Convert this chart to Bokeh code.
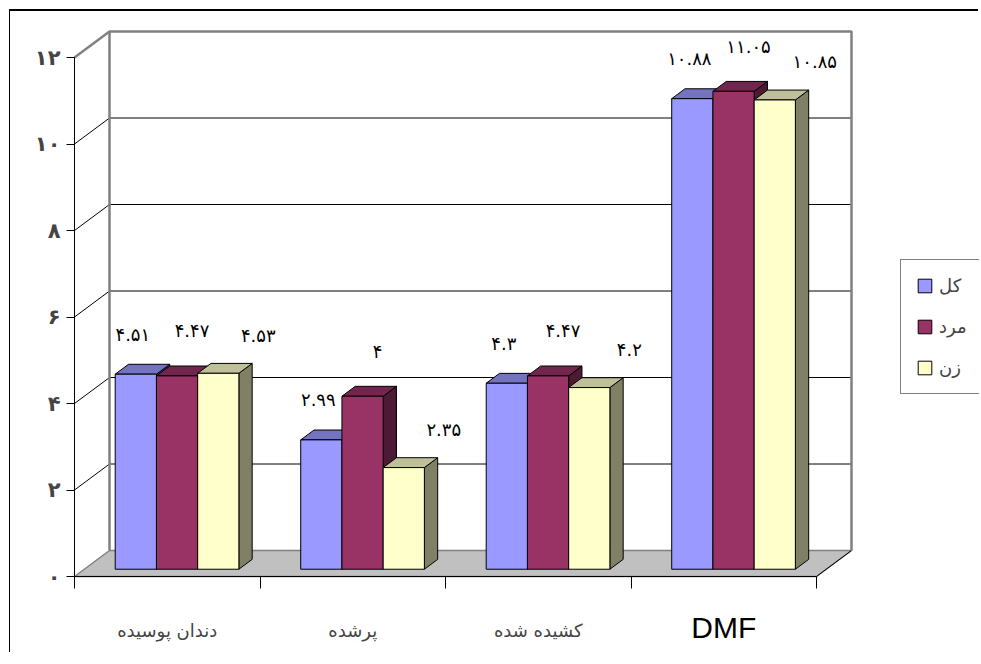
from bokeh.plotting import figure
from bokeh.models import Range1d, LinearAxis, FixedTicker, Legend, LegendItem
from bokeh.embed import file_html
from bokeh.resources import INLINE
from bokeh.core.properties import value

# ---------------- data ----------------
categories = ["دندان پوسیده", "پرشده", "کشیده شده", "DMF"]
series_names = ["کل", "مرد", "زن"]
total = [4.51, 2.99, 4.3, 10.88]
male = [4.47, 4, 4.47, 11.05]
female = [4.53, 2.35, 4.2, 10.85]
value_ticks = [0, 2, 4, 6, 8, 10, 12]

# ---------------- style ----------------
front_colors = ["#9999FF", "#993366", "#FFFFCC"]
top_colors = ["#7373BF", "#73264D", "#BFBF99"]
side_colors = ["#4D4D80", "#4D1A33", "#808066"]
label_dx = [-3, 15, 40]     # px
label_dy = [40, 45, 38]     # px above bar top

FA = str.maketrans("0123456789", "۰۱۲۳۴۵۶۷۸۹")


def fa(v):
    return f"{v:g}".translate(FA)


W, H = 969, 643
ORIGIN_X, ORIGIN_Y = 64, 565      # canvas px of (0, 0)
X_PX, Y_PX = 185.5, 43.25         # px per unit
DX = 35 / X_PX          # depth offset in x units
DY = 26 / Y_PX          # depth offset in y units
F1, F2 = 0.28, 0.66     # bar front/back depth fractions
BW = 1 / 4.5            # bar width (gap 150%)
GAP = 0.75 * BW
NCAT = len(categories)
VMAX = value_ticks[-1]

p = figure(width=W, height=H,
           x_range=Range1d(-ORIGIN_X / X_PX, (W - ORIGIN_X) / X_PX),
           y_range=Range1d(-(H - ORIGIN_Y) / Y_PX, ORIGIN_Y / Y_PX),
           x_axis_type=None, y_axis_type=None, output_backend="svg", toolbar_location=None,
           min_border=0, outline_line_color=None,
           background_fill_color="white", border_fill_color="white")
p.styles = {"margin-top": "9px", "margin-left": "9px",
            "border-top": "2px solid black", "border-left": "1px solid black"}

# floor
p.patch([0, NCAT, NCAT + DX, DX], [0, 0, DY, DY], fill_color="#C0C0C0",
        line_color="#808080", line_width=1.5)
p.line([NCAT, NCAT + DX], [0, DY], line_color="black", line_width=1)

# back wall gridlines and side wall diagonals
inner = value_ticks[1:-1]
p.segment(x0=[DX] * len(inner), y0=[v + DY for v in inner],
          x1=[NCAT + DX] * len(inner), y1=[v + DY for v in inner],
          line_color="black", line_width=1)
p.segment(x0=[0] * len(inner), y0=inner, x1=[DX] * len(inner), y1=[v + DY for v in inner],
          line_color="black", line_width=1)
# wall borders
p.line([DX, DX, NCAT + DX, NCAT + DX], [DY, VMAX + DY, VMAX + DY, DY],
       line_color="#808080", line_width=2.5)
p.line([0, DX], [VMAX, VMAX + DY], line_color="#808080", line_width=2.5)

# bars
d = F2 - F1
fronts = []
for j, vals in enumerate([total, male, female]):
    xl = [i + GAP + j * BW + F1 * DX for i in range(NCAT)]
    yb = F1 * DY
    yt = [v + yb for v in vals]
    sx = [[x + BW, x + BW, x + BW + d * DX, x + BW + d * DX] for x in xl]
    sy = [[yb, t, t + d * DY, yb + d * DY] for t in yt]
    p.patches(sx, sy, fill_color=side_colors[j], line_color="black", line_width=1)
    tx = [[x, x + BW, x + BW + d * DX, x + d * DX] for x in xl]
    ty = [[t, t, t + d * DY, t + d * DY] for t in yt]
    p.patches(tx, ty, fill_color=top_colors[j], line_color="black", line_width=1)
    fr = p.quad(left=xl, right=[x + BW for x in xl], bottom=[yb] * NCAT, top=yt,
                fill_color=front_colors[j], line_color="black", line_width=1)
    fronts.append(fr)
    p.text(x=[x + BW / 2 for x in xl], y=yt, text=[fa(v) for v in vals],
           x_offset=label_dx[j], y_offset=-label_dy[j],
           text_align="center", text_baseline="middle",
           text_font=value("DejaVu Sans"), text_font_size="18px", text_color="black")

# axes
yaxis = LinearAxis(ticker=FixedTicker(ticks=value_ticks), bounds=(0, VMAX), fixed_location=0,
                   major_label_overrides={v: fa(v) for v in value_ticks},
                   major_tick_in=0, major_tick_out=8, minor_tick_line_color=None,
                   axis_line_color="black", major_tick_line_color="black",
                   major_label_text_font="DejaVu Sans", major_label_text_font_size="21px",
                   major_label_text_font_style="bold", major_label_standoff=6)
p.add_layout(yaxis, "left")

centers = [i + 0.5 for i in range(NCAT)]
overrides = {c: (lab if lab != "DMF" else "") for c, lab in zip(centers, categories)}
xaxis = LinearAxis(ticker=FixedTicker(ticks=centers, minor_ticks=list(range(NCAT + 1))),
                   bounds=(0, NCAT), fixed_location=0,
                   major_tick_line_color=None, major_tick_in=0,
                   major_tick_out=0, minor_tick_in=0, minor_tick_out=12,
                   minor_tick_line_color="black", axis_line_color="black",
                   major_label_overrides=overrides, major_label_text_font="DejaVu Sans",
                   major_label_text_font_size="18px", major_label_standoff=31)
p.add_layout(xaxis, "below")

# Latin category label (larger font, as in the original)
dmf_i = categories.index("DMF")
p.text(x=[centers[dmf_i]], y=[0], text=[categories[dmf_i]], y_offset=51,
       text_align="center", text_baseline="middle",
       text_font=value("Liberation Sans"), text_font_size="30px", text_color="black")

legend = Legend(items=[LegendItem(label=n, renderers=[r]) for n, r in zip(series_names, fronts)],
                location=(890, 260), border_line_color="black", border_line_width=1,
                glyph_width=17, glyph_height=17, label_text_font="DejaVu Sans",
                label_text_font_size="18px", padding=15, spacing=20, label_standoff=6,
                label_height=17, label_width=70, margin=0,
                background_fill_color="white", background_fill_alpha=1)
p.add_layout(legend)

open("out.html", "w").write(file_html(p, INLINE))
